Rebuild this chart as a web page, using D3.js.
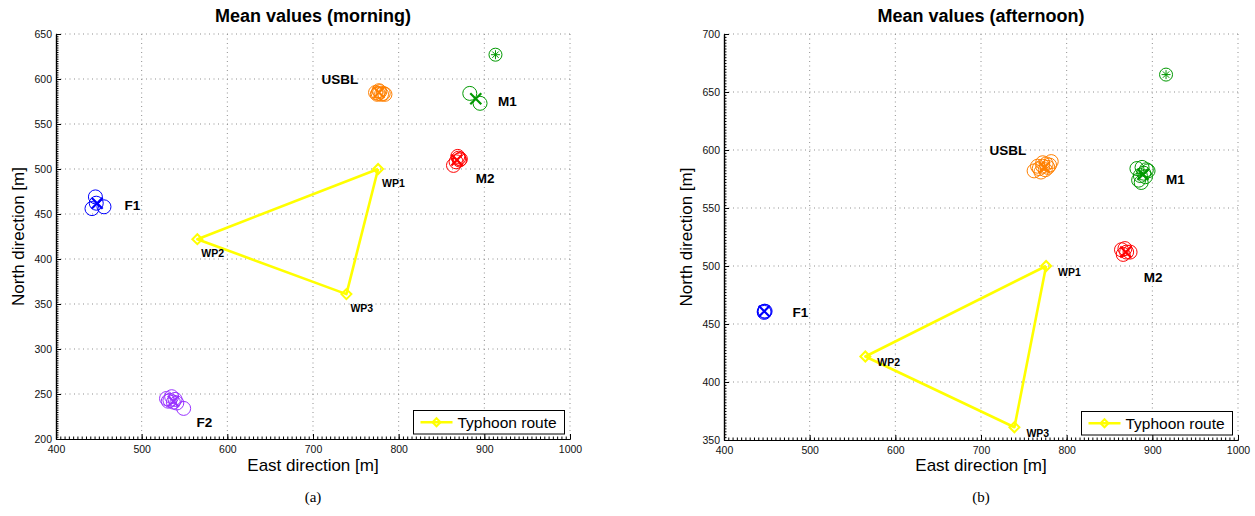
<!DOCTYPE html>
<html>
<head>
<meta charset="utf-8">
<script src="https://cdn.jsdelivr.net/npm/d3@7"></script>
<style>
body { margin: 0; background: #fff; }
svg { font-family: "Liberation Sans", Arial, sans-serif; }
.grid line { stroke: #8f8f8f; stroke-width: 1; stroke-dasharray: 1,3.5; }
.axis path, .axis line { stroke: #000; }
.axis text { font-size: 10.5px; fill: #111; }
</style>
</head>
<body>
<svg id="chart" width="1255" height="516"></svg>
<script>
/* Mean positions of the transponders, morning (a) and afternoon (b) */

// Typhoon route waypoints, same in both runs
const wpNames = ['WP1', 'WP2', 'WP3']
const wpEast = [776, 565, 739]
const wpNorth = [500, 422, 361]

const xTicks = [400, 500, 600, 700, 800, 900, 1000]
const yTicksAm = [200, 250, 300, 350, 400, 450, 500, 550, 600, 650]
const yTicksPm = [350, 400, 450, 500, 550, 600, 650, 700]

// group labels, anchored in data coordinates (text starts there)
const groupNames = ['USBL', 'M1', 'M2', 'F1', 'F2']
const labelEast = [710, 916, 890, 480, 564]
const labelNorth = [600, 575, 490, 460, 219]

// morning: single estimates [east, north]
const amUSBL = [[773, 585], [776, 584], [778, 586], [780, 583], [782, 584], [775, 583], [777, 587], [784, 583]]
const amM1 = [[883, 584], [895, 573]]
const amM2 = [[864, 504], [869, 514], [871, 510], [867, 508], [870, 512], [872, 511]]
const amF1 = [[446, 469], [442, 456], [456, 458], [447, 462]]
const amF2 = [[529, 245], [533, 243], [537, 241], [535, 247], [541, 240], [549, 234], [531, 242], [539, 244]]
// morning: means
const amMeans = [[777, 585], [890, 578], [868, 510], [448, 462], [537, 242]]
const amRef = [913, 627]

// afternoon: single estimates
const pmUSBL = [[762, 582], [768, 584], [772, 586], [776, 588], [782, 590], [770, 581], [775, 583], [778, 585], [772, 589], [766, 586], [780, 587]]
const pmM1 = [[882, 584], [888, 585], [893, 583], [886, 578], [890, 580], [884, 574], [892, 577], [887, 572], [895, 582]]
const pmM2 = [[864, 514], [866, 510], [870, 512], [874, 512], [868, 515]]
const pmF1 = [[447, 461], [447, 460], [448, 461]]
const pmF2 = []
const pmMeans = [[774, 585], [889, 579], [869, 512], [447, 461], null]
const pmRef = [916, 665]

const colors = {
    USBL: '#ff8000', M1: '#009900', M2: '#ff0000', F1: '#0000ff', F2: '#9933ff'
}
const routeColor = '#ffff00'

const panels = [
    {
        title: 'Mean values (morning)', caption: '(a)',
        left: 56, right: 570, top: 34, bottom: 439,
        yDomain: [200, 650], yTicks: yTicksAm, yMinor: 2.5,
        groups: [amUSBL, amM1, amM2, amF1, amF2], means: amMeans, ref: amRef,
        wpDx: 4, wpDy: 14, yLabelX: 18
    },
    {
        title: 'Mean values (afternoon)', caption: '(b)',
        left: 724, right: 1238, top: 34, bottom: 440,
        yDomain: [350, 700], yTicks: yTicksPm, yMinor: 2.5,
        groups: [pmUSBL, pmM1, pmM2, pmF1, pmF2], means: pmMeans, ref: pmRef,
        wpDx: 12, wpDy: 6, yLabelX: 686
    }
]

const svg = d3.select('#chart')

const diamond = (g, cx, cy, r) => g.append('path')
    .attr('d', `M${cx},${cy - r}L${cx + r},${cy}L${cx},${cy + r}L${cx - r},${cy}Z`)
    .attr('fill', 'none')
    .attr('stroke', routeColor)
    .attr('stroke-width', 2)

panels.forEach(p => {
    const x = d3.scaleLinear().domain([400, 1000]).range([p.left, p.right])
    const y = d3.scaleLinear().domain(p.yDomain).range([p.bottom, p.top])
    const g = svg.append('g')
    const cx = (p.left + p.right) / 2

    // grid
    const grid = g.append('g').attr('class', 'grid')
    grid.selectAll('.gx').data(xTicks.slice(1)).enter().append('line')
        .attr('x1', d => x(d)).attr('x2', d => x(d))
        .attr('y1', p.top).attr('y2', p.bottom)
    grid.selectAll('.gy').data(p.yTicks.slice(1)).enter().append('line')
        .attr('y1', d => y(d)).attr('y2', d => y(d))
        .attr('x1', p.left).attr('x2', p.right)

    // route
    const route = wpEast.map((e, i) => [x(e), y(wpNorth[i])])
    g.append('path')
        .attr('d', d3.line()(route.concat([route[0]])))
        .attr('fill', 'none')
        .attr('stroke', routeColor)
        .attr('stroke-width', 2.6)
        .attr('stroke-linejoin', 'round')
    route.forEach(pt => diamond(g, pt[0], pt[1], 5))
    g.selectAll('.wp').data(wpNames).enter().append('text')
        .attr('x', (d, i) => route[i][0] + p.wpDx)
        .attr('y', (d, i) => route[i][1] + p.wpDy)
        .attr('dy', '0.35em')
        .attr('font-size', '10.5px')
        .attr('font-weight', 'bold')
        .text(d => d)

    // single estimates and their means
    groupNames.forEach((name, gi) => {
        const pts = p.groups[gi]
        g.selectAll(null).data(pts).enter().append('circle')
            .attr('cx', d => x(d[0])).attr('cy', d => y(d[1]))
            .attr('r', 7)
            .attr('fill', 'none')
            .attr('stroke', colors[name])
            .attr('stroke-width', 1)
        const m = p.means[gi]
        if (m) {
            const mx = x(m[0]), my = y(m[1]), s = 5.5
            g.append('path')
                .attr('d', `M${mx - s},${my - s}L${mx + s},${my + s}M${mx - s},${my + s}L${mx + s},${my - s}`)
                .attr('stroke', colors[name])
                .attr('stroke-width', 2.2)
        }
        if (pts.length) {
            g.append('text')
                .attr('x', x(labelEast[gi]))
                .attr('y', y(labelNorth[gi]))
                .attr('dy', '0.35em')
                .attr('font-size', '13.5px')
                .attr('font-weight', 'bold')
                .text(name)
        }
    })

    // reference point (asterisk in circle)
    const rx = x(p.ref[0]), ry = y(p.ref[1])
    g.append('circle').attr('cx', rx).attr('cy', ry).attr('r', 6.5)
        .attr('fill', 'none').attr('stroke', colors.M1).attr('stroke-width', 1)
    const a = 4.5, b = 3.2
    g.append('path')
        .attr('d', `M${rx - a},${ry}L${rx + a},${ry}M${rx},${ry - a}L${rx},${ry + a}` +
            `M${rx - b},${ry - b}L${rx + b},${ry + b}M${rx - b},${ry + b}L${rx + b},${ry - b}`)
        .attr('stroke', colors.M1).attr('stroke-width', 1)

    // axes
    const fmt = d3.format('d')
    g.append('g')
        .attr('class', 'axis')
        .attr('transform', `translate(0,${p.bottom})`)
        .call(d3.axisBottom(x).tickValues(d3.range(400, 1001, 5)).tickSize(-2.5).tickSizeOuter(0).tickFormat(''))
    g.append('g')
        .attr('class', 'axis')
        .attr('transform', `translate(0,${p.bottom})`)
        .call(d3.axisBottom(x).tickValues(xTicks).tickSize(-5).tickSizeOuter(0).tickPadding(7).tickFormat(fmt))
    g.append('g')
        .attr('class', 'axis')
        .attr('transform', `translate(${p.left},0)`)
        .call(d3.axisLeft(y).tickValues(d3.range(p.yDomain[0], p.yDomain[1] + 0.1, p.yMinor)).tickSize(-2.5).tickSizeOuter(0).tickFormat(''))
    g.append('g')
        .attr('class', 'axis')
        .attr('transform', `translate(${p.left},0)`)
        .call(d3.axisLeft(y).tickValues(p.yTicks).tickSize(-5).tickSizeOuter(0).tickPadding(4).tickFormat(fmt))
    g.selectAll('.axis path.domain').attr('stroke-width', 1.2)

    // titles
    g.append('text')
        .attr('x', cx).attr('y', 16).attr('dy', '0.35em')
        .attr('text-anchor', 'middle')
        .attr('font-size', '18px').attr('font-weight', 'bold')
        .text(p.title)
    g.append('text')
        .attr('x', cx).attr('y', 465).attr('dy', '0.35em')
        .attr('text-anchor', 'middle')
        .attr('font-size', '17px')
        .text('East direction [m]')
    g.append('text')
        .attr('transform', `translate(${p.yLabelX},${(p.top + p.bottom) / 2}) rotate(-90)`)
        .attr('dy', '0.35em')
        .attr('text-anchor', 'middle')
        .attr('font-size', '17px')
        .text('North direction [m]')
    g.append('text')
        .attr('x', cx).attr('y', 497).attr('dy', '0.35em')
        .attr('text-anchor', 'middle')
        .attr('font-family', '"Liberation Serif", "Times New Roman", serif')
        .attr('font-size', '15px')
        .text(p.caption)

    // legend
    const lw = 151, lh = 23.5
    const lx = p.right - 5.5 - lw, ly = p.bottom - 5 - lh
    const lg = g.append('g').attr('transform', `translate(${lx},${ly})`)
    lg.append('rect').attr('width', lw).attr('height', lh)
        .attr('fill', '#fff').attr('stroke', '#000').attr('stroke-width', 1)
    lg.append('line').attr('x1', 7).attr('x2', 39).attr('y1', lh / 2).attr('y2', lh / 2)
        .attr('stroke', routeColor).attr('stroke-width', 2.6)
    diamond(lg, 23, lh / 2, 4)
    lg.append('text').attr('x', 44).attr('y', lh / 2).attr('dy', '0.35em')
        .attr('font-size', '15.5px')
        .text('Typhoon route')
})
</script>
</body>
</html>
